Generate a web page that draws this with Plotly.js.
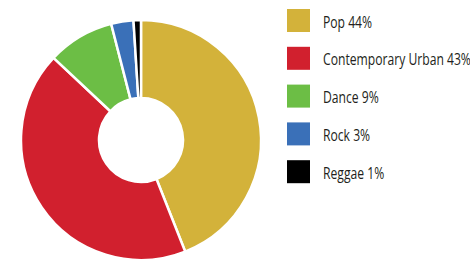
<!DOCTYPE html>
<html><head><meta charset="utf-8">
<script src="https://cdn.plot.ly/plotly-3.0.1.min.js"></script>
<style>html,body{margin:0;padding:0;background:#fff}</style>
</head><body><div id="chart" style="width:470px;height:260px"></div>
<script>
const genres = ["Pop", "Contemporary Urban", "Dance", "Rock", "Reggae"];
const shares = [44, 43, 9, 3, 1];
const colors = ["#D3B23A", "#D1202E", "#6CBE45", "#3A70B8", "#000000"];

const FONT = "'Open Sans', 'Noto Sans', sans-serif";
const W = 470, H = 260;
// legend geometry (pixels)
const legX = 287, legY0 = 9, legStep = 37.8, sq = 23, textX = 321, longestW = 148;

const shapes = [], annotations = [];
genres.forEach((g, i) => {
  const top = legY0 + i * legStep;
  shapes.push({type: "rect", xref: "paper", yref: "paper",
    x0: legX / W, x1: (legX + sq) / W, y0: 1 - (top + sq) / H, y1: 1 - top / H,
    fillcolor: colors[i], line: {width: 0}});
  annotations.push({xref: "paper", yref: "paper", x: textX / W, y: 1 - (top + sq / 2 + 0.5) / H,
    xanchor: "left", yanchor: "middle", showarrow: false,
    text: g + " " + shares[i] + "%", font: {family: FONT, size: 16.5, color: "#231F20"}});
});

Plotly.newPlot("chart", [{
  type: "pie", labels: genres, values: shares, hole: 0.35,
  sort: false, direction: "clockwise", rotation: 0,
  marker: {colors: colors, line: {color: "#ffffff", width: 2.5}},
  textinfo: "none", hoverinfo: "label+percent", showlegend: false,
  domain: {x: [21 / W, 261 / W], y: [0, 240 / H]}
}], {
  width: W, height: H, margin: {l: 0, r: 0, t: 0, b: 0},
  paper_bgcolor: "#ffffff", showlegend: false,
  shapes: shapes, annotations: annotations
}, {displayModeBar: false, staticPlot: true}).then(() => {
  // condense legend labels horizontally (reference uses a condensed face)
  const texts = Array.from(document.querySelectorAll("#chart .annotation-text"));
  const widths = texts.map(t => t.getBBox().width);
  const s = longestW / Math.max(...widths);
  texts.forEach(t => {
    const x0 = t.getBBox().x;
    t.setAttribute("transform", `translate(${x0},0) scale(${s},1) translate(${-x0},0)`);
  });
});
</script></body></html>
